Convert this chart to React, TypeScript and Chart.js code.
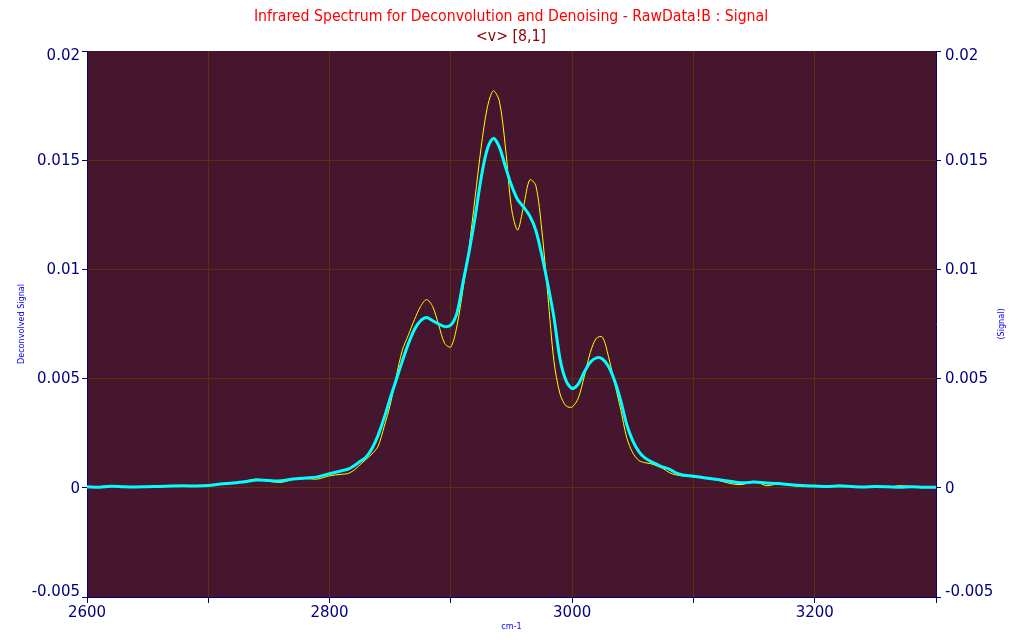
import React, { useEffect, useRef } from "react";
import { Chart, registerables } from "chart.js";

Chart.register(...registerables);

const TITLE = "Infrared Spectrum for Deconvolution and Denoising - RawData!B : Signal";
const SUBTITLE = "<v> [8,1]";
const X_TITLE = "cm-1";
const Y_LEFT_TITLE = "Deconvolved Signal";
const Y_RIGHT_TITLE = "(Signal)";

const X_MIN = 2600;
const X_MAX = 3300;
const X_STEP = 100;
const Y_MIN = -0.005;
const Y_MAX = 0.02;
const Y_STEP = 0.005;
const Y_TICK_LABELS = ["0.02", "0.015", "0.01", "0.005", "0", "-0.005"];
const Y_TICK_VALUES = [0.02, 0.015, 0.01, 0.005, 0, -0.005];

const wavenumbers = [
  2600, 2610, 2620, 2630, 2640, 2650, 2660, 2670, 2680, 2690,
  2700, 2710, 2720, 2730, 2740, 2750, 2760, 2770, 2780, 2790,
  2800, 2810, 2815, 2820, 2825, 2830, 2835, 2840, 2845, 2850,
  2855, 2860, 2865, 2870, 2875, 2880, 2885, 2890, 2895, 2900,
  2905, 2910, 2915, 2920, 2925, 2930, 2935, 2940, 2945, 2950,
  2955, 2960, 2965, 2970, 2975, 2980, 2985, 2990, 2995, 3000,
  3005, 3010, 3015, 3020, 3025, 3030, 3035, 3040, 3045, 3050,
  3055, 3060, 3065, 3070, 3075, 3080, 3085, 3090, 3100, 3110,
  3120, 3130, 3140, 3150, 3160, 3170, 3180, 3190, 3200, 3210,
  3220, 3230, 3240, 3250, 3260, 3270, 3280, 3290, 3300,
];

const signal = [
  0.00005, 0.00003, 0.00007, 0.00005, 0.00004, 0.00005, 0.00006, 0.00008, 0.00009, 0.00008,
  0.0001, 0.00017, 0.00022, 0.00028, 0.00036, 0.00033, 0.00032, 0.0004, 0.00045, 0.0005,
  0.00065, 0.00078, 0.00085, 0.001, 0.0012, 0.0014, 0.0018, 0.0024, 0.0032, 0.0041,
  0.00495, 0.0058, 0.0066, 0.00725, 0.00765, 0.0078, 0.00765, 0.0075, 0.00738, 0.00745,
  0.008, 0.0094, 0.0108, 0.0124, 0.0142, 0.0155, 0.016, 0.0156, 0.0147, 0.01385,
  0.0132, 0.01285, 0.01245, 0.0118, 0.01065, 0.0093, 0.0078, 0.0059, 0.0049, 0.00455,
  0.00475, 0.0053, 0.00575, 0.00595, 0.0059, 0.00555, 0.0049, 0.004, 0.0029, 0.00215,
  0.00166, 0.00137, 0.0012, 0.00107, 0.00095, 0.00086, 0.0007, 0.0006, 0.00053, 0.00045,
  0.00038, 0.0003, 0.00023, 0.00026, 0.00022, 0.0002, 0.00014, 0.0001, 0.00008, 0.00006,
  0.00008, 0.00006, 0.00004, 0.00006, 0.00005, 0.00003, 0.00005, 0.00002, 0.00003,
];

const deconvolved = [
  0.0, 0.00005, 0.0001, 0.00004, 0.00003, 0.00006, 0.00009, 0.00007, 0.0001, 0.00006,
  0.00011, 0.00016, 0.0002, 0.0003, 0.0004, 0.0003, 0.00025, 0.00038, 0.00042, 0.0004,
  0.00055, 0.00062, 0.00065, 0.0008, 0.00105, 0.0013, 0.00155, 0.0019, 0.0028, 0.0038,
  0.0051, 0.0063, 0.007, 0.0077, 0.0083, 0.00862, 0.0083, 0.00745, 0.0066, 0.00645,
  0.0074, 0.0091, 0.011, 0.0133, 0.0156, 0.0174, 0.01818, 0.0177, 0.0156, 0.0128,
  0.0118, 0.0129, 0.0141, 0.01385, 0.0118, 0.0088, 0.0058, 0.0043, 0.00375, 0.0037,
  0.0041, 0.0051, 0.0062, 0.00685, 0.0069, 0.006, 0.0048, 0.0036, 0.0023, 0.0016,
  0.00125, 0.00115, 0.0011, 0.001, 0.00088, 0.0007, 0.0006, 0.00055, 0.0005, 0.00045,
  0.00035, 0.0002, 0.00015, 0.0003, 0.0001, 0.00018, 0.00012, 0.00005, 0.0001, 0.00004,
  0.00012, 0.00008, 0.00003, 0.00008, 0.00002, 0.0001, 0.00005, 0.00001, 0.00002,
];

const PLOT_BG = "#45162E";
const GRID = "#5E3008";
const AXIS = "#000080";
const TICK_FONT = "15px 'DejaVu Sans', sans-serif";

const decorPlugin = {
  id: "decor",
  beforeDraw(chart: any) {
    const { ctx, chartArea } = chart;
    ctx.save();
    ctx.fillStyle = "#FFFFFF";
    ctx.fillRect(0, 0, chart.width, chart.height);
    ctx.fillStyle = PLOT_BG;
    ctx.fillRect(chartArea.left, chartArea.top, chartArea.right - chartArea.left, chartArea.bottom - chartArea.top);
    ctx.restore();
  },
  afterDraw(chart: any) {
    const { ctx, chartArea } = chart;
    const cx = (chartArea.left + chartArea.right) / 2;
    const cy = (chartArea.top + chartArea.bottom) / 2;
    const yScale = chart.scales.y;

    // y tick labels (end labels nudged inward like the original)
    ctx.save();
    ctx.font = TICK_FONT;
    ctx.fillStyle = AXIS;
    ctx.textBaseline = "middle";
    Y_TICK_VALUES.forEach((v, i) => {
      let py = yScale.getPixelForValue(v) + 1;
      if (i === 0) py += 4.5;
      if (i === Y_TICK_VALUES.length - 1) py -= 5.5;
      ctx.textAlign = "right";
      ctx.fillText(Y_TICK_LABELS[i], chartArea.left - 7, py);
      ctx.textAlign = "left";
      ctx.fillText(Y_TICK_LABELS[i], chartArea.right + 9, py);
    });
    ctx.restore();

    ctx.save();
    ctx.textAlign = "center";
    ctx.textBaseline = "middle";
    ctx.fillStyle = "#FF0000";
    ctx.font = "15.7px 'DejaVu Sans Condensed', 'Liberation Sans', sans-serif";
    ctx.fillText(TITLE, 511, 17);
    ctx.fillStyle = "#8B0000";
    ctx.fillText(SUBTITLE, 511, 37);
    ctx.fillStyle = "#0000FF";
    ctx.font = "9px 'DejaVu Sans Condensed', 'Liberation Sans', sans-serif";
    ctx.fillText(X_TITLE, cx, 627);
    ctx.translate(22, cy);
    ctx.rotate(-Math.PI / 2);
    ctx.fillText(Y_LEFT_TITLE, 0, 0);
    ctx.restore();
    ctx.save();
    ctx.textAlign = "center";
    ctx.textBaseline = "middle";
    ctx.fillStyle = "#0000FF";
    ctx.font = "9px 'DejaVu Sans Condensed', 'Liberation Sans', sans-serif";
    ctx.translate(1002, cy);
    ctx.rotate(-Math.PI / 2);
    ctx.fillText(Y_RIGHT_TITLE, 0, 0);
    ctx.restore();
  },
};

export default function App() {
  const ref = useRef<HTMLCanvasElement | null>(null);
  useEffect(() => {
    if (!ref.current) return;
    const tickFont = { family: "'DejaVu Sans', sans-serif", size: 15 };
    const yGridColor = (c: any) =>
      Math.abs(c.tick.value - Y_MAX) < 1e-9 || Math.abs(c.tick.value - Y_MIN) < 1e-9 ? "rgba(0,0,0,0)" : GRID;
    const chart = new Chart(ref.current, {
      type: "line",
      data: {
        datasets: [
          {
            label: "Signal",
            data: wavenumbers.map((x, i) => ({ x, y: signal[i] })),
            borderColor: "#00FFFF",
            borderWidth: 3,
            pointRadius: 0,
            tension: 0.3,
            order: 0,
          },
          {
            label: "Deconvolved Signal",
            data: wavenumbers.map((x, i) => ({ x, y: deconvolved[i] })),
            borderColor: "#FFFF00",
            borderWidth: 1,
            pointRadius: 0,
            tension: 0.3,
            order: 1,
          },
        ],
      },
      options: {
        animation: false,
        responsive: false,
        maintainAspectRatio: false,
        layout: { padding: { top: 51, left: 0, right: 0, bottom: 0 } },
        plugins: {
          legend: { display: false },
          title: { display: false },
          tooltip: { enabled: false },
        },
        scales: {
          x: {
            type: "linear",
            min: X_MIN,
            max: X_MAX,
            afterFit: (s: any) => { s.height = 43; },
            ticks: {
              stepSize: X_STEP,
              autoSkip: false,
              maxRotation: 0,
              padding: 1,
              color: AXIS,
              font: tickFont,
              callback: (v: any) => (Number(v) % 200 === 0 ? String(v) : ""),
            },
            grid: {
              color: (c: any) => (c.tick.value === X_MIN || c.tick.value === X_MAX ? "rgba(0,0,0,0)" : GRID),
              tickColor: AXIS,
              tickLength: 6,
              lineWidth: 1,
            },
            border: { color: AXIS, width: 1 },
          },
          y: {
            type: "linear",
            position: "left",
            min: Y_MIN,
            max: Y_MAX,
            afterFit: (s: any) => { s.width = 87; },
            ticks: { stepSize: Y_STEP, color: "rgba(0,0,0,0)", font: tickFont, padding: 2 },
            grid: { color: yGridColor, tickColor: AXIS, tickLength: 5 },
            border: { color: AXIS, width: 1 },
          },
          y2: {
            type: "linear",
            position: "right",
            min: Y_MIN,
            max: Y_MAX,
            afterFit: (s: any) => { s.width = 88; },
            ticks: { stepSize: Y_STEP, color: "rgba(0,0,0,0)", font: tickFont, padding: 3 },
            grid: { drawOnChartArea: false, tickColor: AXIS, tickLength: 5 },
            border: { color: AXIS, width: 1 },
          },
        },
      } as any,
      plugins: [decorPlugin],
    });
    return () => chart.destroy();
  }, []);
  return (
    <div style={{ position: "fixed", left: 0, top: 0, width: 1024, height: 640, background: "#fff" }}>
      <canvas ref={ref} width={1024} height={640} style={{ display: "block", width: 1024, height: 640 }} />
    </div>
  );
}
